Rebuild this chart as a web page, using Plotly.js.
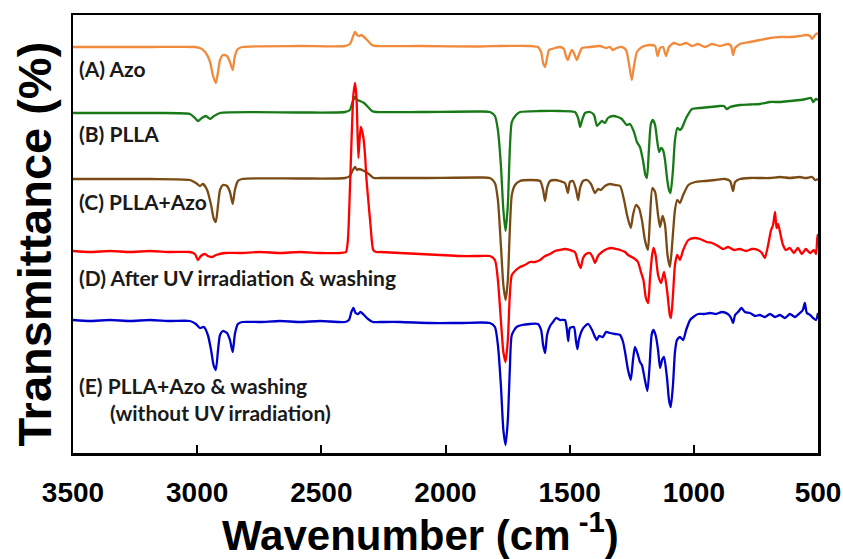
<!DOCTYPE html>
<html>
<head>
<meta charset="utf-8">
<script src="https://cdn.plot.ly/plotly-3.0.1.min.js"></script>
<style>html,body{margin:0;padding:0;background:#fff;}#chart{width:843px;height:559px;}</style>
</head>
<body>
<div id="chart"></div>
<script>
// Wavenumber (cm-1) and relative transmittance (offset, arbitrary units)
const azoWn = [3500,3190,3009,2989,2968,2948,2937,2925,2916,2908,2896,2880,2868,2857,2848,2836,2819,2586,2405,2385,2373,2364,2356,2348,2340,2328,2312,2296,2280,2103,1861,1781,1660,1628,1615,1607,1599,1591,1583,1571,1559,1539,1523,1515,1507,1499,1491,1483,1471,1462,1450,1418,1378,1354,1338,1326,1310,1290,1273,1261,1250,1241,1229,1209,1177,1156,1146,1136,1124,1112,1100,1080,1056,1031,1007,983,955,927,895,863,850,842,834,814,774,734,693,653,613,573,549,532,524,512,500];
const azoT  = [406,406,406,405,401,391,378,370,381,393,398,397,391,383,397,404,406,407,407,409,416,421,418,417,418,416,412,408,407,407,406.5,407,407,406,401,390,386,395,403,404,405,406,404,397,393,399,403,400,393,399,405,406,407,405,406,403,405,406,403,389,373,387,401,406,408,407,397,405,406,397,406,410,408,410,407,409,406,409,407,409,407,398,405,409,411,413,415,416,416,417,418,417,414,418,420];

const pllaWn = [3500,3190,3029,3009,2997,2981,2965,2948,2932,2908,2586,2405,2385,2373,2364,2356,2344,2328,2312,2296,2280,2103,1861,1821,1801,1789,1777,1767,1758,1749,1741,1733,1716,1700,1619,1539,1479,1466,1458,1450,1438,1418,1402,1390,1382,1370,1358,1346,1326,1306,1290,1270,1257,1241,1229,1217,1205,1195,1189,1181,1173,1165,1156,1148,1140,1132,1124,1116,1108,1100,1094,1084,1076,1066,1056,1048,1031,1007,975,935,895,879,867,854,814,774,734,693,653,613,573,549,528,520,508,500];
const pllaT  = [340,340,339,335,332,335,337,334,337,340,340.5,341,343,352,356,353,352,350,346,342,341,341,341.5,341,337,323,288,243,222,248,303,331,338,341,342,342,341,335,326,333,340,341,338,327,329,332,330,335,337,336,334,328,329,321,311,306,293,278,275,303,329,333,328,313,301,305,303,293,275,263,260,283,313,325,323,325,335,344,345,346,347,347,344,346,348,348.5,349,351,351,352,353,354,355,351,354,353];

const mixWn = [3500,3190,3029,3005,2989,2977,2960,2944,2934,2925,2916,2908,2896,2880,2868,2857,2848,2836,2819,2586,2405,2385,2373,2364,2356,2348,2336,2320,2304,2288,2264,2103,1861,1821,1801,1789,1777,1767,1758,1749,1741,1733,1720,1700,1660,1619,1607,1599,1591,1579,1559,1539,1519,1507,1499,1487,1474,1466,1458,1446,1430,1414,1398,1386,1374,1358,1338,1318,1297,1281,1269,1254,1245,1233,1221,1209,1197,1185,1177,1167,1156,1144,1136,1126,1116,1106,1096,1086,1076,1067,1056,1043,1022,994,954,915,874,854,842,834,814,774,734,693,653,613,573,549,524,512,500];
const mixT  = [274,274,273,270,267,269,263,248,235,231,248,263,268,267,261,249,263,272,274,274.5,275,277,283,286,283,284,283,281,278,275,275,275,275.5,275,270,253,208,168,153,173,223,258,268,272,273,272,263,252,265,272,273,272,270,260,271,272,263,253,265,272,273,269,260,264,263,267,269,268,267,253,238,225,238,248,245,233,213,203,233,265,261,238,226,237,228,198,186,213,243,253,250,258,268,271,272,273,274,272,262,271,274,275,275,275,276,275,276,275,276,273,274];

const uvWn = [3500,3432,3351,3270,3190,3109,3029,3009,2997,2985,2968,2957,2941,2924,2888,2827,2747,2666,2586,2505,2425,2401,2393,2385,2377,2371,2364,2358,2351,2346,2341,2336,2331,2324,2318,2311,2302,2291,2280,2264,2183,2103,2022,1942,1861,1821,1801,1789,1777,1767,1758,1749,1741,1733,1716,1700,1680,1660,1640,1619,1599,1579,1559,1539,1519,1499,1479,1466,1456,1446,1434,1418,1406,1398,1386,1370,1350,1331,1314,1297,1277,1265,1250,1237,1225,1213,1203,1193,1184,1177,1168,1162,1154,1144,1132,1120,1108,1096,1092,1084,1076,1067,1056,1043,1022,998,975,948,927,903,881,862,838,814,790,766,742,726,714,701,689,681,673,667,661,653,641,629,613,597,581,565,549,532,516,508,502,500];
const uvT  = [202,201,202,201,202,201,201,199,193,197,199,197,196,198,200,200,201,200,201,200,200,201,213,263,323,358,370,353,295,313,326,322,316,298,273,253,228,203,201,201,200,199,198,197,197,197,193,173,133,101,91,113,158,178,183,186,188,191,191,193,197,199,202,203,204,203,201,191,185,195,199,200,195,190,197,201,204,205,204,203,201,198,196,194,191,181,173,155,150,173,198,205,198,178,170,181,163,137,135,158,188,198,193,203,213,215,214,211,210,207,204,206,203,204,202,204,203,200,195,208,223,228,241,225,229,221,208,203,205,200,205,199,204,200,203,199,218,215];

const washWn = [3500,3432,3351,3270,3190,3109,3029,3005,2989,2973,2957,2944,2934,2925,2916,2908,2896,2880,2868,2857,2848,2836,2819,2747,2666,2586,2505,2405,2389,2379,2371,2362,2352,2342,2328,2312,2292,2264,2183,2062,1942,1821,1801,1789,1777,1767,1758,1749,1741,1733,1714,1692,1660,1628,1615,1607,1599,1591,1579,1567,1555,1539,1519,1511,1506,1499,1483,1475,1469,1463,1450,1438,1425,1410,1398,1391,1382,1366,1354,1338,1318,1297,1285,1277,1265,1254,1245,1237,1225,1217,1209,1197,1187,1178,1170,1163,1154,1144,1136,1128,1120,1108,1100,1093,1084,1076,1068,1056,1043,1031,1015,1002,983,959,935,911,887,863,850,842,834,822,808,794,774,754,734,714,693,673,653,633,613,593,573,561,553,545,532,520,508,500];
const washT  = [133,132,133,132,133,132,132,129,125,126,118,103,88,83,103,118,122,120,113,101,119,129,131,131,132,131,132,131,133,141,145,140,139,141,138,134,131,131,131,130,130,130,126,108,68,23,8,33,83,118,126,128,129,129,123,108,100,118,127,131,135,133,133,123,112,125,126,113,104,113,123,127,129,123,116,113,117,116,121,120,119,118,111,101,83,73,93,106,98,91,88,73,62,88,118,123,118,103,85,93,96,75,53,46,68,101,113,116,113,123,133,136,139,139,140,139,141,139,135,130,138,141,145,141,140,137,138,136,139,136,138,135,139,136,140,143,150,140,138,135,133,140];

const seriesNames = ['(A) Azo','(B) PLLA','(C) PLLA+Azo','(D) After UV irradiation & washing','(E) PLLA+Azo & washing (without UV irradiation)'];
const seriesColors = ['#F08A3C','#177A17','#7A4A14','#FF0000','#0000CC'];
const xTickVals = [3500,3000,2500,2000,1500,1000,500];
const xTickText = ['3500','3000','2500','2000','1500','1000','500'];
const xTitle = 'Wavenumber (cm<sup> -1</sup>)';
const yTitle = 'Transmittance (%)';

const xs = [azoWn, pllaWn, mixWn, uvWn, washWn];
const ys = [azoT, pllaT, mixT, uvT, washT];

const traces = xs.map((x, i) => ({
  type: 'scatter', mode: 'lines', x: x, y: ys[i], name: seriesNames[i],
  line: {color: seriesColors[i], width: 2.3, shape: 'spline', smoothing: 0.6},
  hoverinfo: 'skip'
}));

const labelFont = {family: 'Lato, "Open Sans", sans-serif', size: 21, color: '#1a1a1a', weight: 'bold'};
const titleFontFamily = '"Liberation Sans", Arial, sans-serif';
const annotations = [
  {text: '(A) Azo', x: 3484, y: 385},
  {text: '(B) PLLA', x: 3484, y: 320},
  {text: '(C) PLLA+Azo', x: 3484, y: 252},
  {text: '(D) After UV irradiation &amp; washing', x: 3484, y: 176},
  {text: '(E) PLLA+Azo &amp; washing', x: 3484, y: 68},
  {text: '(without UV irradiation)', x: 3359, y: 41}
].map(a => Object.assign({xref: 'x', yref: 'y', xanchor: 'left', yanchor: 'middle', showarrow: false, font: labelFont}, a));

annotations.push({
  text: xTitle, xref: 'paper', yref: 'paper', x: 0.467, y: -0.18,
  xanchor: 'center', yanchor: 'middle', showarrow: false,
  font: {family: titleFontFamily, size: 42, color: '#000', weight: 'bold'}
});
annotations.push({
  text: yTitle, xref: 'paper', yref: 'paper', x: -0.051, y: 0.476,
  xanchor: 'center', yanchor: 'middle', showarrow: false, textangle: -90,
  font: {family: titleFontFamily, size: 47, color: '#000', weight: 'bold'}
});

const layout = {
  width: 843, height: 559,
  margin: {l: 73, r: 25, t: 15, b: 106},
  paper_bgcolor: '#fff', plot_bgcolor: '#fff',
  showlegend: false,
  xaxis: {
    range: [3500, 500], autorange: false,
    tickvals: xTickVals, ticktext: xTickText,
    ticks: 'inside', ticklen: 8, tickwidth: 2, tickcolor: '#000',
    showline: true, linewidth: 2.5, linecolor: '#000', mirror: true,
    showgrid: false, zeroline: false,
    tickfont: {family: titleFontFamily, size: 28, color: '#000', weight: 'bold'},
    ticklabelstandoff: 13,
    automargin: false
  },
  yaxis: {
    range: [0, 438], autorange: false,
    showticklabels: false, ticks: '',
    showline: true, linewidth: 2.5, linecolor: '#000', mirror: true,
    showgrid: false, zeroline: false,
    automargin: false
  },
  annotations: annotations
};

Plotly.newPlot('chart', traces, layout, {staticPlot: true, displayModeBar: false});
</script>
</body>
</html>
